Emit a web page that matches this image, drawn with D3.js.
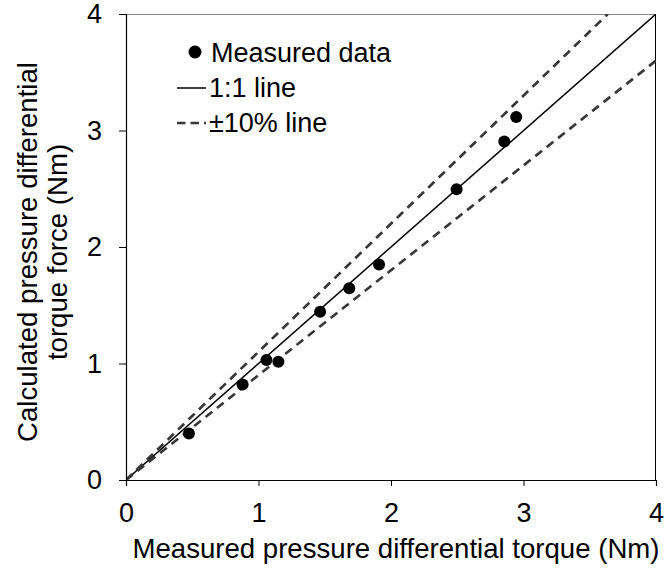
<!DOCTYPE html>
<html><head><meta charset="utf-8">
<script src="https://cdn.jsdelivr.net/npm/d3@7"></script>
<style>body{margin:0;background:#fff}svg{display:block}text{font-family:"Liberation Sans",Arial,sans-serif;fill:#000}</style>
</head><body>
<svg id="c" width="664" height="569"></svg>
<script>
const measured = [0.475, 0.88, 1.06, 1.15, 1.465, 1.685, 1.91, 2.495, 2.855, 2.945];
const calculated = [0.40, 0.82, 1.03, 1.015, 1.445, 1.645, 1.85, 2.495, 2.905, 3.115];
const xTicks = [0, 1, 2, 3, 4];
const yTicks = [0, 1, 2, 3, 4];
const refLines = [
  {name: "1:1 line", factor: 1.0, dashed: false},
  {name: "+10%", factor: 1.1, dashed: true},
  {name: "-10%", factor: 0.9, dashed: true}
];

const FS = 27;
const TFS = 27.6;
const svg = d3.select("#c");
const L = 126, R = 656, T = 14, B = 480;
const x = d3.scaleLinear().domain([0, 4]).range([L, R]);
const y = d3.scaleLinear().domain([0, 4]).range([B, T]);

// frame
svg.append("line").attr("x1", L).attr("x2", R).attr("y1", T + 0.5).attr("y2", T + 0.5).attr("stroke", "#888").attr("stroke-width", 1);
svg.append("line").attr("x1", R - 0.5).attr("x2", R - 0.5).attr("y1", T).attr("y2", B).attr("stroke", "#000").attr("stroke-width", 1);

// reference lines
svg.append("clipPath").attr("id", "pc").append("rect").attr("x", L).attr("y", T).attr("width", R - L).attr("height", B - T);
const g = svg.append("g").attr("clip-path", "url(#pc)");
refLines.forEach(r => {
  const x2 = Math.min(4, 4 / r.factor);
  g.append("line")
    .attr("x1", x(0)).attr("y1", y(0))
    .attr("x2", x(x2)).attr("y2", y(x2 * r.factor))
    .attr("stroke", r.dashed ? "#383838" : "#000")
    .attr("stroke-width", r.dashed ? 2.7 : 1.5)
    .attr("stroke-dasharray", r.dashed ? "8.5,6" : null);
});

// axes
const xAxis = svg.append("g").attr("transform", `translate(0,${B})`)
  .call(d3.axisBottom(x).tickValues(xTicks).tickSize(6).tickPadding(17).tickFormat(d3.format("d")));
const yAxis = svg.append("g").attr("transform", `translate(${L},0)`)
  .call(d3.axisLeft(y).tickValues(yTicks).tickSize(7).tickPadding(17).tickFormat(d3.format("d")));
[xAxis, yAxis].forEach(a => {
  a.select(".domain").attr("stroke", "#000").attr("stroke-width", 1.2);
  a.selectAll(".tick line").attr("stroke", "#000");
  a.selectAll("text").attr("font-size", FS).attr("font-family", '"Liberation Sans", Arial, sans-serif').attr("fill", "#000");
});

// points
svg.append("g").selectAll("circle").data(measured.map((m, i) => [m, calculated[i]]))
  .join("circle").attr("cx", d => x(d[0])).attr("cy", d => y(d[1])).attr("r", 6).attr("fill", "#000");

// axis titles
svg.append("text").attr("x", 396).attr("y", 558).attr("text-anchor", "middle").attr("font-size", TFS)
  .text("Measured pressure differential torque (Nm)");
const yt = svg.append("text").attr("transform", "translate(0,252) rotate(-90)").attr("text-anchor", "middle").attr("font-size", TFS);
yt.append("tspan").attr("x", 0).attr("y", 37).text("Calculated pressure differential");
yt.append("tspan").attr("x", 0).attr("y", 67).text("torque force (Nm)");

// legend
const lg = svg.append("g");
lg.append("circle").attr("cx", 195).attr("cy", 52).attr("r", 6.5).attr("fill", "#000");
lg.append("text").attr("x", 211).attr("y", 62).attr("font-size", FS).text("Measured data");
lg.append("line").attr("x1", 177).attr("x2", 206).attr("y1", 88).attr("y2", 88).attr("stroke", "#000").attr("stroke-width", 1.5);
lg.append("text").attr("x", 209).attr("y", 97).attr("font-size", FS).text("1:1 line");
lg.append("line").attr("x1", 177).attr("x2", 206).attr("y1", 123).attr("y2", 123).attr("stroke", "#383838").attr("stroke-width", 2.7).attr("stroke-dasharray", "8.5,5");
lg.append("text").attr("x", 209).attr("y", 132).attr("font-size", FS).text("±10% line");
</script>
</body></html>
